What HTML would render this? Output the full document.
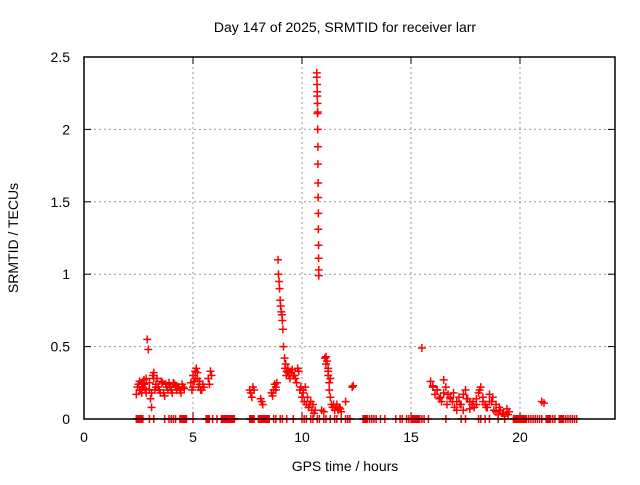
<!DOCTYPE html>
<html><head><meta charset="utf-8"><style>
body{margin:0;background:#fff;font-family:"Liberation Sans",sans-serif}
svg text{font-family:"Liberation Sans",sans-serif;font-size:14px;fill:#000}
</style></head><body>
<svg id="c" width="640" height="480">
<text x="345" y="32" text-anchor="middle">Day 147 of 2025, SRMTID for receiver larr</text>
<text x="345" y="471" text-anchor="middle">GPS time / hours</text>
<text transform="translate(18,238) rotate(-90)" text-anchor="middle">SRMTID / TECUs</text>
<g id="grid"></g><g id="ticks"></g><g id="pts"></g>
<rect x="84" y="57" width="531" height="362" fill="none" stroke="#000" stroke-width="1.5"/>
</svg>
<script>
const xTicks=[0,5,10,15,20];
const yTicks=[0,0.5,1,1.5,2,2.5];
const yLabels=["0","0.5","1","1.5","2","2.5"];
const clusterHours=[2.4,2.5,2.55,2.6,2.65,2.7,2.75,2.8,2.85,2.9,2.95,3.0,3.05,3.1,3.15,3.2,3.25,3.3,3.35,3.4,3.5,3.6,3.7,3.8,3.9,4.0,4.1,4.2,4.3,4.4,4.5,4.6,4.95,5.0,5.05,5.1,5.15,5.2,5.25,5.3,5.4,5.5,5.7,5.8,5.85,7.6,7.7,7.8,8.1,8.2,8.6,8.7,8.8,8.85,8.9,8.92,8.95,8.97,9.0,9.02,9.05,9.08,9.1,9.12,9.15,9.2,9.25,9.3,9.35,9.4,9.5,9.6,9.7,9.8,9.9,10.0,10.05,10.1,10.2,10.3,10.4,10.5,10.6];
const clusterValues=[0.17,0.24,0.26,0.2,0.25,0.22,0.27,0.21,0.18,0.55,0.48,0.25,0.14,0.08,0.3,0.32,0.2,0.24,0.28,0.22,0.18,0.25,0.16,0.22,0.25,0.2,0.25,0.23,0.22,0.2,0.24,0.21,0.2,0.3,0.26,0.33,0.35,0.28,0.22,0.24,0.2,0.22,0.28,0.33,0.3,0.2,0.15,0.2,0.14,0.1,0.18,0.2,0.22,0.25,1.1,1.0,0.95,0.9,0.82,0.78,0.74,0.72,0.68,0.62,0.5,0.42,0.38,0.33,0.35,0.3,0.32,0.3,0.28,0.35,0.2,0.15,0.2,0.12,0.1,0.08,0.12,0.1,0.06];
const denseHours=[2.45,2.55,2.65,2.75,2.85,3.0,3.1,3.2,3.3,3.45,3.55,3.65,3.75,3.85,3.95,4.05,4.15,4.25,4.35,4.45,4.55,4.9,5.0,5.1,5.2,5.3,5.35,5.45,5.75,7.65,7.75,8.15,8.65,8.75,8.8,9.22,9.28,9.35,9.45,9.55,9.65,9.75,9.85,9.95,10.05,10.15,10.25,10.35,10.45,10.55,11.05,11.1,11.2,11.3,11.45,11.55,11.65,11.75,16.0,16.2,16.35,16.5,16.65,16.8,16.95,17.1,17.25,17.4,17.55,17.7,17.85,18.0,18.15,18.3,18.45,18.6,18.75,18.9,19.05,19.25,19.45];
const denseValues=[0.22,0.2,0.18,0.24,0.28,0.2,0.18,0.28,0.22,0.2,0.26,0.18,0.24,0.2,0.22,0.18,0.24,0.2,0.22,0.18,0.22,0.25,0.22,0.28,0.32,0.26,0.2,0.24,0.24,0.18,0.22,0.12,0.16,0.24,0.2,0.35,0.3,0.32,0.28,0.34,0.3,0.25,0.33,0.22,0.18,0.22,0.15,0.1,0.06,0.04,0.42,0.38,0.33,0.28,0.1,0.08,0.06,0.07,0.23,0.2,0.15,0.18,0.1,0.15,0.18,0.06,0.1,0.17,0.14,0.07,0.12,0.1,0.2,0.15,0.08,0.12,0.15,0.1,0.08,0.04,0.03];
const spikeHours=[10.68,10.68,10.69,10.7,10.7,10.71,10.71,10.72,10.72,10.73,10.73,10.74,10.74,10.75,10.75,10.76,10.76,10.77,10.77];
const spikeValues=[2.39,2.36,2.31,2.26,2.23,2.18,2.11,2.12,2.0,1.88,1.76,1.63,1.53,1.42,1.31,1.2,1.11,1.03,0.99];
const lateHours=[10.9,11.0,11.1,11.15,11.2,11.2,11.25,11.25,11.3,11.35,11.4,11.5,11.6,11.7,11.8,12.0,12.3,12.35,15.5,15.9,16.0,16.1,16.2,16.3,16.4,16.5,16.6,16.7,16.8,16.9,17.0,17.1,17.2,17.3,17.4,17.5,17.6,17.7,17.8,17.9,18.0,18.1,18.2,18.3,18.4,18.5,18.6,18.7,18.8,18.9,19.0,19.1,19.2,19.3,19.4,19.5,21.0,21.1];
const lateValues=[0.06,0.05,0.43,0.4,0.35,0.3,0.25,0.2,0.15,0.1,0.08,0.06,0.1,0.08,0.05,0.12,0.22,0.23,0.49,0.26,0.22,0.17,0.2,0.14,0.12,0.27,0.22,0.17,0.14,0.12,0.08,0.12,0.15,0.1,0.06,0.2,0.14,0.12,0.1,0.08,0.14,0.18,0.22,0.12,0.1,0.08,0.17,0.12,0.06,0.05,0.03,0.06,0.04,0.02,0.07,0.05,0.12,0.11];
const zeroHours=[2.4,2.45,2.5,2.55,2.6,2.65,2.7,3.0,3.2,3.7,3.9,4.0,4.1,4.2,4.4,4.45,4.5,4.55,4.6,4.65,4.7,5.0,5.6,5.65,5.7,5.75,5.9,6.1,6.3,6.35,6.4,6.45,6.5,6.55,6.6,6.65,6.7,6.75,6.8,6.85,6.9,7.6,7.65,7.7,7.75,7.8,8.0,8.05,8.1,8.15,8.2,8.25,8.3,8.35,8.4,8.45,8.5,8.7,8.8,9.0,9.1,9.3,9.6,10.0,10.1,10.2,10.4,10.5,10.7,10.8,11.0,11.1,11.3,11.5,11.6,11.8,12.0,12.1,12.2,12.8,12.85,12.9,12.95,13.0,13.1,13.2,13.3,13.4,13.6,13.8,14.3,14.5,14.6,14.8,14.9,15.0,15.05,15.1,15.15,15.2,15.25,15.3,15.35,15.4,15.5,15.6,15.8,16.6,17.3,17.5,18.1,18.2,18.4,18.6,19.0,19.3,19.7,19.75,19.8,19.85,19.9,19.95,20.0,20.05,20.1,20.15,20.2,20.25,20.3,20.4,20.5,20.6,20.7,20.8,20.9,21.0,21.2,21.25,21.3,21.35,21.4,21.5,21.6,21.8,21.85,21.9,21.95,22.0,22.1,22.2,22.3,22.4,22.5,22.6];
const X=h=>84+h*21.8, Y=v=>419-v*144.8;
const NS="http://www.w3.org/2000/svg";
const grid=document.getElementById('grid'),ticks=document.getElementById('ticks'),pts=document.getElementById('pts');
function mk(p,tag,a){const e=document.createElementNS(NS,tag);for(const k in a)e.setAttribute(k,a[k]);p.appendChild(e);return e;}
xTicks.forEach(t=>{const x=X(t);
 if(t>0){const g=mk(grid,'line',{x1:x,x2:x,y1:57,y2:419,stroke:'#999','stroke-dasharray':'2,3'});
 
 }
 mk(ticks,'line',{x1:x,x2:x,y1:419,y2:412,stroke:'#000'});mk(ticks,'line',{x1:x,x2:x,y1:57,y2:64,stroke:'#000'});
 const tx=mk(ticks,'text',{x:x,y:442,'text-anchor':'middle'});tx.textContent=t;
 
 });
yTicks.forEach((t,i)=>{const y=Y(t);
 if(t>0&&t<2.5){const g=mk(grid,'line',{x1:84,x2:615,y1:y,y2:y,stroke:'#999','stroke-dasharray':'2,3'});
 
 }
 mk(ticks,'line',{x1:84,x2:91,y1:y,y2:y,stroke:'#000'});mk(ticks,'line',{x1:615,x2:608,y1:y,y2:y,stroke:'#000'});
 const tx=mk(ticks,'text',{x:70,y:y+5,'text-anchor':'end'});tx.textContent=yLabels[i];
 
 });
function plot(hs,vs){hs.forEach((h,i)=>{const x=X(h),y=Y(vs[i]);
 const p=mk(pts,'path',{d:`M${x-4},${y}H${x+4}M${x},${y-4}V${y+4}`,stroke:'#f00','stroke-width':1.5});
 
 });}
plot(clusterHours,clusterValues);plot(denseHours,denseValues);plot(spikeHours,spikeValues);plot(lateHours,lateValues);
plot(zeroHours,zeroHours.map(()=>0));
</script>
</body></html>
